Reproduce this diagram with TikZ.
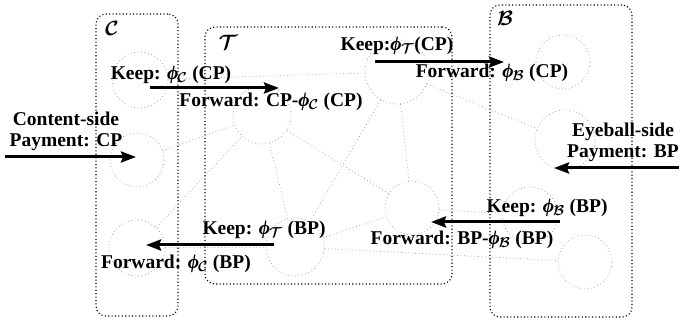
\documentclass[tikz,border=0pt]{standalone}
\usepackage{bm}
\usepackage{fontspec}
\setmainfont{Liberation Serif}
\usetikzlibrary{arrows.meta}

\tikzset{
  zonebox/.style={draw=black, line width=1.1pt, dash pattern=on 1.1pt off 2.3pt,
                 rounded corners=10pt, rectangle, inner sep=0pt},
  peer/.style={circle, draw=gray!85, line width=0.7pt, dash pattern=on 0.7pt off 2.8pt,
               minimum size=#1, inner sep=0pt},
  link/.style={draw=gray!85, line width=0.7pt, dash pattern=on 0.7pt off 2.8pt},
  flow/.style={line width=3pt, -{Stealth[length=15pt,width=11pt,inset=2pt]}},
  lbl/.style={font=\fontsize{19.5}{21}\selectfont\bfseries, inner sep=0pt, align=center},
  zname/.style={font=\fontsize{21}{24}\selectfont, inner sep=0pt},
}

% bold italic phi (stroked form) with a calligraphic domain index
\newcommand{\phisub}[1]{{\itshape ϕ}\kern-1pt$_{\bm{\mathcal{#1}}}$}

\begin{document}
\begin{tikzpicture}[x=1pt,y=-1pt]
\useasboundingbox (0,0) rectangle (682,320);

% peers of the three domains
\node[peer=56] (C1)  at (140,80)  {};
\node[peer=54] (C2)  at (137,160) {};
\node[peer=56] (C3)  at (137,248) {};
\node[peer=58] (T1)  at (262,115) {};
\node[peer=64] (T2)  at (397,72)  {};
\node[peer=58] (Tb)  at (295,247) {};
\node[peer=54] (Tr)  at (412,208) {};
\node[peer=54] (B1)  at (563,62)  {};
\node[peer=60] (B2)  at (565,140) {};
\node[peer=56] (B3)  at (530,215) {};
\node[peer=54] (B4)  at (585,262) {};

% links between peers
\draw[link] (C1) -- (T2);
\draw[link] (C2) -- (T1);
\draw[link] (C3) -- (T1);
\draw[link] (C3) -- (Tb);
\draw[link] (T1) -- (Tb);
\draw[link] (T1) -- (Tr);
\draw[link] (T2) -- (Tb);
\draw[link] (T2) -- (Tr);
\draw[link] (T2) -- (B2);
\draw[link] (Tb) -- (Tr);
\draw[link] (Tr) -- (B3);
\draw[link] (Tb) -- (B4);

% domains
\node[zonebox, minimum width=82, minimum height=302] (Cdom) at (137,165) {};
\node[zonebox, minimum width=247, minimum height=257] (Tdom) at (328.5,155.5) {};
\node[zonebox, minimum width=142, minimum height=312] (Bdom) at (561,161) {};
\node[zname] (Cname) at (112,28) {$\bm{\mathcal{C}}$};
\node[zname] (Tname) at (228,42) {$\bm{\mathcal{T}}$};
\node[zname] (Bname) at (505,18) {$\bm{\mathcal{B}}$};

% content-side payment
\node[lbl] (cside) at (66,131) {Content-side\\Payment: CP};
\coordinate (cpin) at (5,157);
\coordinate (cpC) at (136,157);
\draw[flow] (cpin) -- (cpC);

\coordinate (f1s) at (150,88);
\coordinate (f1e) at (279,88);
\draw[flow] (f1s) -- (f1e);
\node[lbl] (keepC) at (171,75) {Keep: \phisub{C} (CP)};
\node[lbl] (fwdC) at (271,102) {Forward: CP-\phisub{C} (CP)};

\coordinate (f2s) at (375,62);
\coordinate (f2e) at (504,62);
\draw[flow] (f2s) -- (f2e);
\node[lbl] (keepT) at (397,46) {Keep:\phisub{T}(CP)};
\node[lbl] (fwdT) at (492,73) {Forward: \phisub{B} (CP)};

% eyeball-side payment
\node[lbl] (eside) at (623,142) {Eyeball-side\\Payment: BP};
\coordinate (bpin) at (679,168);
\coordinate (bpB) at (554,168);
\draw[flow] (bpin) -- (bpB);

\coordinate (g1s) at (560,222);
\coordinate (g1e) at (431,222);
\draw[flow] (g1s) -- (g1e);
\node[lbl] (keepB) at (547,208) {Keep: \phisub{B} (BP)};
\node[lbl] (fwdB) at (462,240) {Forward: BP-\phisub{B} (BP)};

\coordinate (g2s) at (274,245);
\coordinate (g2e) at (146,245);
\draw[flow] (g2s) -- (g2e);
\node[lbl] (keepT2) at (264,230) {Keep: \phisub{T} (BP)};
\node[lbl] (fwdC2) at (176,264) {Forward: \phisub{C} (BP)};

\end{tikzpicture}
\end{document}
